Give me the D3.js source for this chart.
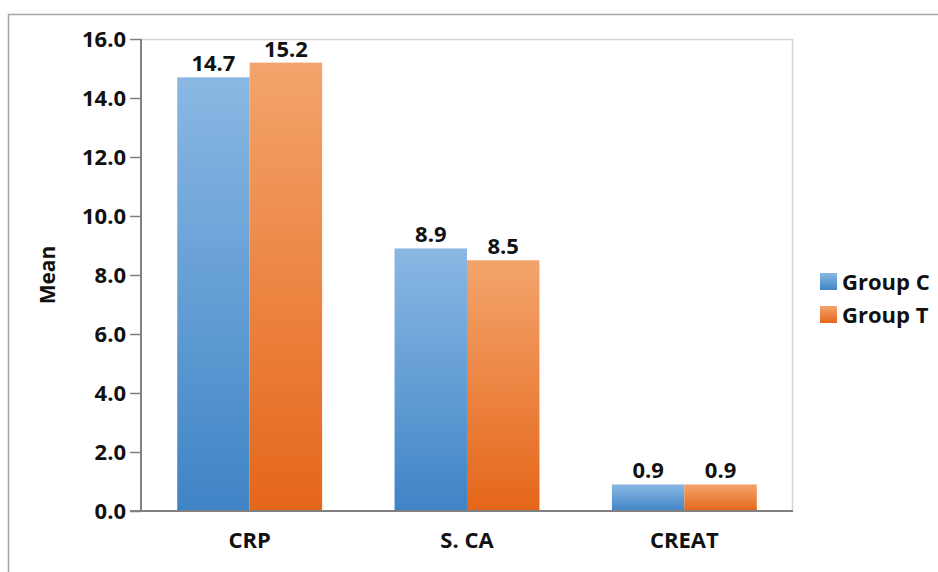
<!DOCTYPE html>
<html>
<head>
<meta charset="utf-8">
<script src="https://cdn.jsdelivr.net/npm/d3@7"></script>
<style>
  body { margin: 0; background: #fff; }
  svg text { font-family: "Open Sans", Lato, sans-serif; font-weight: bold; fill: #111; }
</style>
</head>
<body>
<div id="chart-container"></div>
<script>
// dữ liệu
const categories = ["CRP", "S. CA", "CREAT"];
const groups = ["Group C", "Group T"];
const groupC = [14.7, 8.9, 0.9];
const groupT = [15.2, 8.5, 0.9];
const yTicks = [0, 2, 4, 6, 8, 10, 12, 14, 16];

const width = 938, height = 572;
const margin = { top: 39, right: 145, bottom: 61, left: 141 };
const innerW = width - margin.left - margin.right;
const innerH = height - margin.top - margin.bottom;

const svg = d3.select("#chart-container")
    .append("svg")
    .attr("width", width)
    .attr("height", height);

// gradients
const defs = svg.append("defs");
const grads = [
    { id: "gC", top: "#8ab8e3", bottom: "#3f84c6" },
    { id: "gT", top: "#f3a46c", bottom: "#e5661a" }
];
grads.forEach(g => {
    const lg = defs.append("linearGradient").attr("id", g.id)
        .attr("x1", 0).attr("y1", 0).attr("x2", 0).attr("y2", 1);
    lg.append("stop").attr("offset", "0%").attr("stop-color", g.top);
    lg.append("stop").attr("offset", "100%").attr("stop-color", g.bottom);
});

// outer frame
svg.append("rect")
    .attr("x", 8.5).attr("y", 14.5)
    .attr("width", width + 20).attr("height", height + 20)
    .attr("fill", "none").attr("stroke", "#a6a6a6").attr("stroke-width", 1.5);

const g = svg.append("g").attr("transform", `translate(${margin.left},${margin.top})`);

const x0 = d3.scaleBand().domain(categories).range([0, innerW]).paddingInner(1 / 3).paddingOuter(1 / 6);
const x1 = d3.scaleBand().domain(groups).range([0, x0.bandwidth()]);
const y = d3.scaleLinear().domain([0, 16]).range([innerH, 0]);

// plot area border (top/right)
g.append("path")
    .attr("d", `M0,0.5H${innerW - 0.5}V${innerH}`)
    .attr("fill", "none").attr("stroke", "#d4d4d4").attr("stroke-width", 1.5);

const rows = categories.map((c, i) => ({ cat: c, vals: [groupC[i], groupT[i]] }));

const cat = g.selectAll(".cat").data(rows).enter().append("g")
    .attr("transform", d => `translate(${x0(d.cat)},0)`);

cat.selectAll("rect")
    .data(d => d.vals.map((v, j) => ({ key: groups[j], v, id: grads[j].id })))
    .enter().append("rect")
    .attr("x", d => x1(d.key))
    .attr("y", d => y(d.v))
    .attr("width", x1.bandwidth())
    .attr("height", d => innerH - y(d.v))
    .attr("fill", d => `url(#${d.id})`);

cat.selectAll(".label")
    .data(d => d.vals.map((v, j) => ({ key: groups[j], v })))
    .enter().append("text")
    .attr("x", d => x1(d.key) + x1.bandwidth() / 2)
    .attr("y", d => y(d.v) - 6)
    .attr("text-anchor", "middle")
    .style("font-size", "22px")
    .text(d => d3.format(".1f")(d.v));

// y axis
const yAxis = g.append("g")
    .call(d3.axisLeft(y).tickValues(yTicks).tickFormat(d3.format(".1f")).tickSize(11).tickPadding(4));
yAxis.select(".domain").attr("stroke", "#808080").attr("stroke-width", 2).attr("d", `M0,0V${innerH}`);
yAxis.selectAll(".tick line").attr("stroke", "#808080").attr("stroke-width", 1.5);
yAxis.selectAll("text").style("font-size", "22px").attr("fill", "#111");

// x axis
const xAxis = g.append("g")
    .attr("transform", `translate(0,${innerH})`)
    .call(d3.axisBottom(x0).tickSize(0).tickPadding(21));
xAxis.select(".domain").attr("stroke", "#808080").attr("stroke-width", 2).attr("d", `M-11,0H${innerW}`);
xAxis.selectAll("text").style("font-size", "22px").attr("fill", "#111");

// axis title
svg.append("text")
    .attr("transform", `translate(48,${margin.top + innerH / 2}) rotate(-90)`)
    .attr("text-anchor", "middle")
    .attr("dy", "0.35em")
    .style("font-size", "21px")
    .text("Mean");

// legend
const legend = svg.append("g").attr("transform", "translate(820,273)");
groups.forEach((name, i) => {
    const row = legend.append("g").attr("transform", `translate(0,${i * 33})`);
    row.append("rect").attr("width", 17).attr("height", 17).attr("fill", `url(#${grads[i].id})`);
    row.append("text").attr("x", 22).attr("y", 9).attr("dy", "0.35em")
        .style("font-size", "22px").text(name);
});
</script>
</body>
</html>
